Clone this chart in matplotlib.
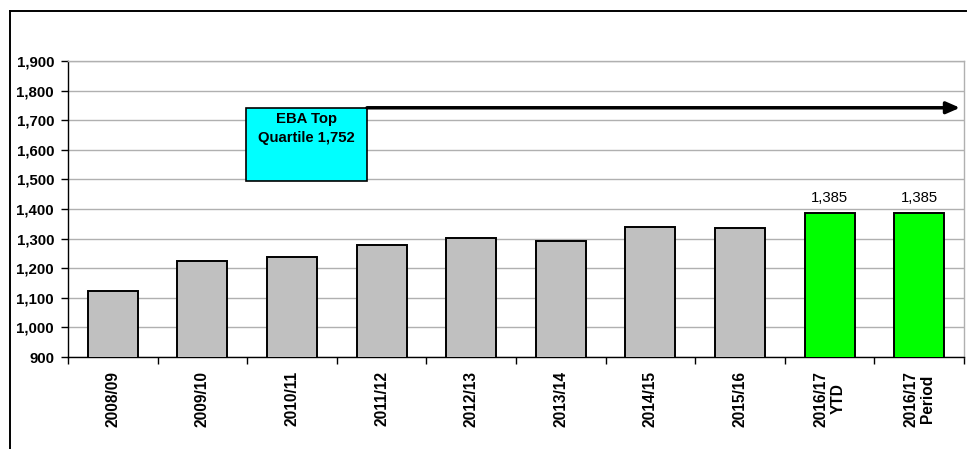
import matplotlib
matplotlib.use("Agg")
import matplotlib.pyplot as plt
from matplotlib.lines import Line2D
from matplotlib.patches import Rectangle
import matplotlib.transforms as mtransforms
import numpy as np

categories = ["2008/09", "2009/10", "2010/11", "2011/12", "2012/13", "2013/14",
              "2014/15", "2015/16", "2016/17\nYTD", "2016/17\nPeriod"]
values = [1124, 1225, 1239, 1278, 1301, 1291, 1339, 1337, 1385, 1385]
bar_colors = ["#c0c0c0"] * 8 + ["#00ff00"] * 2
labelled = [8, 9]
y_ticks = [900, 1000, 1100, 1200, 1300, 1400, 1500, 1600, 1700, 1800, 1900]
eba_value = 1752
eba_line = 1742
box_bottom = 1493
box_label = "EBA Top\nQuartile 1,752"

plt.rcParams['font.family'] = ['Liberation Sans', 'DejaVu Sans']
fs = 10.8

fig = plt.figure(figsize=(9.75, 4.49), dpi=100)
W, H = 975, 449
ax = fig.add_axes([68 / W, (H - 357) / H, (964 - 68) / W, (357 - 61) / H])

x = np.arange(len(categories))
ax.bar(x, values, width=0.56, color=bar_colors, edgecolor="black", linewidth=1.4, zorder=3)

ax.set_xlim(-0.5, len(categories) - 0.5)
ax.set_ylim(900, 1900)
ax.set_yticks(y_ticks)
ax.set_yticklabels([f"{v:,}" for v in y_ticks], fontsize=fs, fontweight="bold")
ax.yaxis.grid(True, color="#b0b0b0", linewidth=1.0, zorder=0)
ax.set_axisbelow(True)

ax.set_xticks(x)
ax.set_xticklabels(categories, rotation=90, fontsize=11.2, fontweight="bold",
                   multialignment="center", linespacing=1.15)
ax.tick_params(axis="x", which="major", length=0, pad=10)
ax.set_xticks(np.arange(-0.5, len(categories)), minor=True)
ax.tick_params(axis="x", which="minor", length=5, width=1, direction="out")
ax.tick_params(axis="y", length=5, width=1, direction="out", pad=5)

for side in ["top", "right"]:
    ax.spines[side].set_color("#b0b0b0")
    ax.spines[side].set_linewidth(1.0)
for side in ["left", "bottom"]:
    ax.spines[side].set_color("black")
    ax.spines[side].set_linewidth(1.0)

for i in labelled:
    ax.annotate(f"{values[i]:,}", (x[i], values[i]), xytext=(0, 6),
                textcoords="offset points", ha="center", va="bottom", fontsize=10.7)

# EBA box and arrow
trans = mtransforms.blended_transform_factory(ax.transAxes, ax.transData)
bx0 = (246 - 68) / 896
bx1 = (367 - 68) / 896
ax.add_patch(Rectangle((bx0, box_bottom), bx1 - bx0, eba_line - box_bottom, transform=trans,
                       facecolor="#00ffff", edgecolor="black", linewidth=1.2, zorder=5))
ax.text((bx0 + bx1) / 2, eba_line - 14, box_label, transform=trans, ha="center", va="top",
        fontsize=10.7, fontweight="bold", linespacing=1.45, zorder=6)
ax.annotate("", xy=(0.9955, eba_line), xytext=(bx1, eba_line), xycoords=trans, textcoords=trans,
            arrowprops=dict(arrowstyle="-|>,head_length=0.8,head_width=0.35", color="black",
                            linewidth=2.5, shrinkA=0, shrinkB=0), zorder=6)

# outer frame (cropped chart border)
fig.add_artist(Line2D([9.5 / W, 966 / W], [(H - 11) / H, (H - 11) / H], color="black",
                      linewidth=1.4, transform=fig.transFigure))
fig.add_artist(Line2D([9.5 / W, 9.5 / W], [0, (H - 11) / H], color="black",
                      linewidth=1.4, transform=fig.transFigure))

fig.savefig("out.png", dpi=100)
